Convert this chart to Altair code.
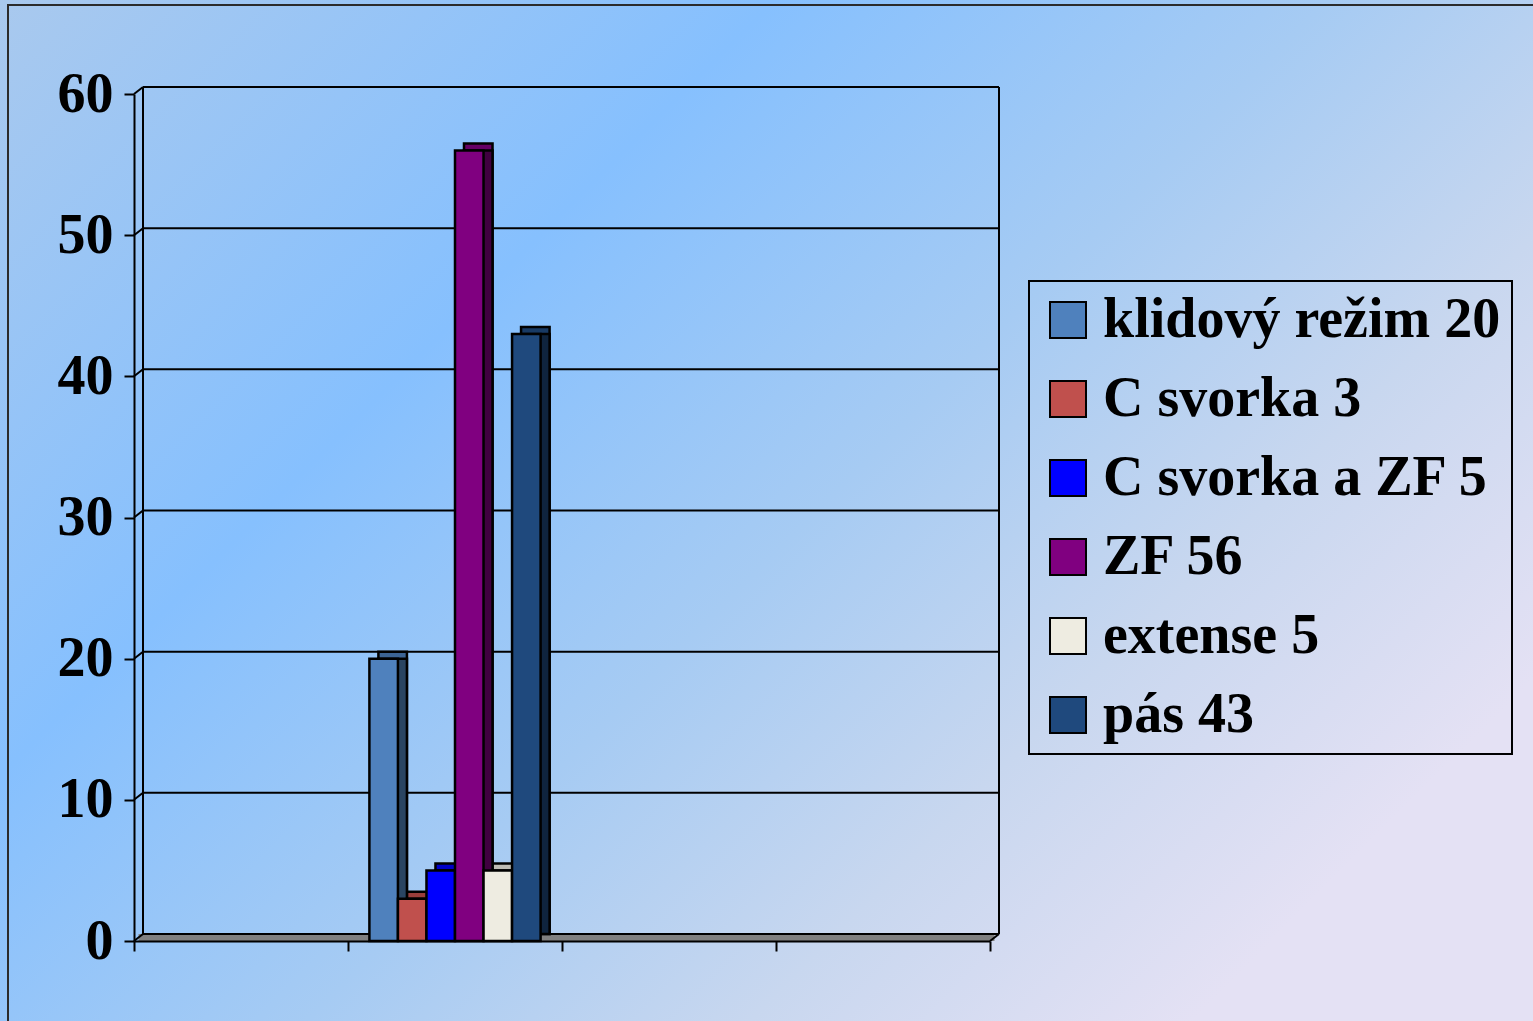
import altair as alt
import pandas as pd

# ---- data ----
categories = ["K1", "K2", "K3", "K4"]
bar_category = "K2"
series = ["klidový režim 20", "C svorka 3", "C svorka a ZF 5", "ZF 56", "extense 5", "pás 43"]
values = [20, 3, 5, 56, 5, 43]
y_ticks = [0, 10, 20, 30, 40, 50, 60]

# ---- styles ----
front_colors = ["#4F81BD", "#C0504D", "#0000FF", "#800080", "#EEECE1", "#1F497D"]
top_colors = ["#3C6494", "#9A3E3B", "#0000C8", "#660066", "#BEBCB4", "#183A64"]
side_colors = ["#2A4562", "#62282A", "#00007A", "#400040", "#7A7972", "#0F243E"]

W, H = 856, 847
X0, Y0 = 134, 94
PAGE_W, PAGE_H = 1533, 1021
DX, DY = 9, 7
FONT = "Liberation Serif"

bars = pd.DataFrame({"category": [bar_category] * len(series), "series": series, "value": values})
ticks = pd.DataFrame({"v": y_ticks})
one = alt.Data(values=[{}])

yscale = alt.Scale(domain=[0, 60], nice=False, zero=True)

gradient = alt.Gradient(
    gradient="linear",
    stops=[
        alt.GradientStop(color="#A9C9EE", offset=0),
        alt.GradientStop(color="#86C0FE", offset=0.35),
        alt.GradientStop(color="#A6CBF3", offset=0.6),
        alt.GradientStop(color="#C8D7EF", offset=0.8),
        alt.GradientStop(color="#E4E1F4", offset=1),
    ],
    x1=0, y1=0, x2=1, y2=0.666,
)

bg = alt.Chart(one).mark_rect(fill=gradient, strokeWidth=0).encode(
    x=alt.value(-X0), x2=alt.value(PAGE_W - X0),
    y=alt.value(-Y0), y2=alt.value(PAGE_H - Y0),
)

frame = alt.Chart(one).mark_rect(fillOpacity=0, stroke="#2B2B2B", strokeWidth=2).encode(
    x=alt.value(8 - X0), x2=alt.value(PAGE_W - X0 + 50),
    y=alt.value(5 - Y0), y2=alt.value(PAGE_H - Y0 + 50),
)

floor = alt.Chart(one).mark_rect(color="#808080").encode(
    x=alt.value(DX / 2), x2=alt.value(W + DX / 2),
    y=alt.value(H - DY), y2=alt.value(H),
)

backgrid = alt.Chart(ticks).mark_rule(color="black", strokeWidth=2, yOffset=-DY).encode(
    y=alt.Y("v:Q", scale=yscale, axis=None),
    x=alt.value(DX), x2=alt.value(W + DX),
)

leftdiag = alt.Chart(ticks).mark_rule(color="black", strokeWidth=2, y2Offset=-DY).encode(
    y=alt.Y("v:Q", scale=yscale, axis=None),
    y2=alt.Y2("v:Q"),
    x=alt.value(0), x2=alt.value(DX),
)

backleft = alt.Chart(one).mark_rule(color="black", strokeWidth=2).encode(
    x=alt.value(DX), y=alt.value(-DY), y2=alt.value(H - DY)
)
backright = alt.Chart(one).mark_rule(color="black", strokeWidth=2).encode(
    x=alt.value(W + DX), y=alt.value(-DY), y2=alt.value(H - DY)
)
rightdiag = alt.Chart(one).mark_rule(color="black", strokeWidth=2).encode(
    x=alt.value(W), x2=alt.value(W + DX), y=alt.value(H), y2=alt.value(H - DY)
)


def off_scale():
    return alt.Scale(domain=series, paddingOuter=0.75, paddingInner=0)


bar_top = alt.Chart(bars).mark_bar(
    stroke="black", strokeWidth=2.5, yOffset=-DY, y2Offset=-DY
).encode(
    x=alt.X("category:N", scale=alt.Scale(domain=categories, range=[DX, W + DX],
                                          paddingInner=0, paddingOuter=0), axis=None),
    xOffset=alt.XOffset("series:N", scale=off_scale()),
    y=alt.Y("value:Q", scale=yscale, axis=None),
    y2=alt.datum(0),
    color=alt.Color("series:N", scale=alt.Scale(domain=series, range=top_colors), legend=None),
)

bar_side = alt.Chart(bars).mark_bar(
    stroke="black", strokeWidth=2.5, y2Offset=-DY
).encode(
    x=alt.X("category:N", scale=alt.Scale(domain=categories, range=[DX, W + DX],
                                          paddingInner=0, paddingOuter=0), axis=None),
    xOffset=alt.XOffset("series:N", scale=off_scale()),
    y=alt.Y("value:Q", scale=yscale, axis=None),
    y2=alt.datum(0),
    color=alt.Color("series:N", scale=alt.Scale(domain=series, range=side_colors), legend=None),
)

bar_front = alt.Chart(bars).mark_bar(stroke="black", strokeWidth=2.5).encode(
    x=alt.X(
        "category:N",
        scale=alt.Scale(domain=categories, paddingInner=0, paddingOuter=0),
        axis=alt.Axis(labels=False, title=None, tickBand="extent", ticks=True,
                      tickSize=10, tickWidth=2, tickColor="black", zindex=1,
                      domain=True, domainColor="black", domainWidth=2, grid=False),
    ),
    xOffset=alt.XOffset("series:N", scale=off_scale()),
    y=alt.Y(
        "value:Q", scale=yscale,
        axis=alt.Axis(values=y_ticks, title=None, grid=False, tickSize=10, tickWidth=2,
                      tickColor="black", domain=True, domainColor="black", domainWidth=2,
                      labelFont=FONT, labelFontSize=56, labelFontWeight="bold", zindex=1,
                      labelColor="black", labelPadding=11),
    ),
    color=alt.Color(
        "series:N",
        scale=alt.Scale(domain=series, range=front_colors),
        sort=series,
        legend=alt.Legend(
            orient="none", legendX=895, legendY=187, title=None,
            labelFont=FONT, labelFontSize=56, labelFontWeight="bold", labelColor="black",
            symbolType="square", symbolSize=1296, symbolStrokeColor="black",
            symbolStrokeWidth=2, symbolOpacity=1, rowPadding=23, labelOffset=7,
            padding=11, strokeColor="black", labelLimit=0, zindex=1,
        ),
    ),
)

chart = alt.layer(
    bg, frame, floor, backgrid, leftdiag, backleft, backright, rightdiag,
    bar_top, bar_side, bar_front,
).resolve_scale(
    x="independent", xOffset="independent", color="independent"
).resolve_axis(
    x="independent", y="independent"
).properties(
    width=W, height=H,
    padding={"left": X0, "top": Y0, "right": PAGE_W - X0 - W, "bottom": PAGE_H - Y0 - H},
    autosize=alt.AutoSizeParams(type="none"),
).configure_view(stroke=None).configure_legend(strokeWidth=2)

chart.save("out.html", embed_options={"renderer": "svg", "actions": False})
